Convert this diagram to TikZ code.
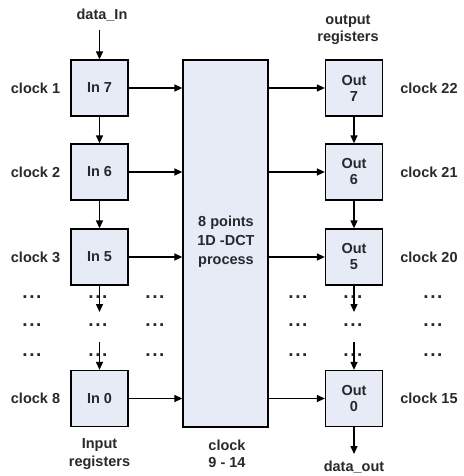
\documentclass[tikz,border=0pt]{standalone}
\usepackage{fontspec}
\setmainfont{Liberation Sans}
\usetikzlibrary{arrows.meta}
\definecolor{boxfill}{RGB}{230,235,246}
\definecolor{txt}{RGB}{40,40,45}
\begin{document}
\begin{tikzpicture}[x=1pt,y=-1pt,
  reg/.style={draw=black,line width=1.3pt,fill=boxfill,minimum width=57pt,minimum height=56pt,inner sep=0pt,align=center,font=\fontsize{14.5}{16}\bfseries\selectfont,text=txt},
  lbl/.style={font=\fontsize{14.5}{17.5}\bfseries\selectfont,text=txt,align=center,inner sep=0pt},
  dots/.style={font=\fontsize{19}{20}\bfseries\selectfont,text=txt,inner sep=0pt},
  arr/.style={line width=1.3pt,-{Triangle[length=8pt,width=7pt]}}]
\useasboundingbox[fill=white] (0,0) rectangle (463,476);
% input registers
\node[reg] (in7) at (99.5,88) {In 7};
\node[reg] (in6) at (99.5,172) {In 6};
\node[reg] (in5) at (99.5,257) {In 5};
\node[reg] (in0) at (99.5,398.5) {In 0};
% output registers
\node[reg] (out7) at (354,88) {Out\\7};
\node[reg] (out6) at (354,172) {Out\\6};
\node[reg] (out5) at (354,257) {Out\\5};
\node[reg] (out0) at (354,398.5) {Out\\0};
% DCT block
\node[draw=black,line width=1.3pt,fill=boxfill,minimum width=85pt,minimum height=367pt,inner sep=0pt] (dct) at (225.5,243.5) {};
\node[lbl,font=\fontsize{14.5}{19}\bfseries\selectfont] (dcttxt) at (226,242) {8 points\\1D -DCT\\process};
% labels
\node[lbl] (datain) at (102,15) {data\_In};
\node[lbl] (outreg) at (348,30) {output\\registers};
\node[lbl] (inreg) at (99.5,454) {Input\\registers};
\node[lbl] (clk914) at (227,454) {clock\\9 - 14};
\node[lbl] (dataout) at (354,467) {data\_out};
\node[lbl] (c1) at (35.5,88) {clock 1};
\node[lbl] (c2) at (35.5,172) {clock 2};
\node[lbl] (c3) at (35.5,257) {clock 3};
\node[lbl] (c8) at (35.5,398.5) {clock 8};
\node[lbl] (c22) at (429,88) {clock 22};
\node[lbl] (c21) at (429,172) {clock 21};
\node[lbl] (c20) at (429,257) {clock 20};
\node[lbl] (c15) at (429,398.5) {clock 15};
% dots
\foreach \r/\y in {a/301,b/329,c/359}{
  \foreach \c/\x in {1/32,2/98,3/155,4/298,5/353,6/433}{
    \node[dots] (d\r\c) at (\x,\y-4) {.\hspace{1.6pt}.\hspace{1.6pt}.};
  }
}
\coordinate (datainend) at (99.5,30);
\coordinate (inmidA) at (99.5,312);
\coordinate (inmidB) at (99.5,342);
\coordinate (outmidA) at (354,312);
\coordinate (outmidB) at (354,342);
\coordinate (dataoutend) at (354,454);
% connectors
\draw[arr] (datainend) -- (in7.north);
\draw[arr] (in7) -- (in6);
\draw[arr] (in6) -- (in5);
\draw[arr] (in5.south) -- (inmidA);
\draw[arr] (inmidB) -- (in0.north);
\draw[arr] (out7) -- (out6);
\draw[arr] (out6) -- (out5);
\draw[arr] (out5.south) -- (outmidA);
\draw[arr] (outmidB) -- (out0.north);
\draw[arr] (out0.south) -- (dataoutend);
\foreach \n in {7,6,5,0}{
  \draw[arr] (in\n.east) -- (in\n.east -| dct.west);
  \draw[arr] (out\n.west -| dct.east) -- (out\n.west);
}
\end{tikzpicture}
\end{document}
